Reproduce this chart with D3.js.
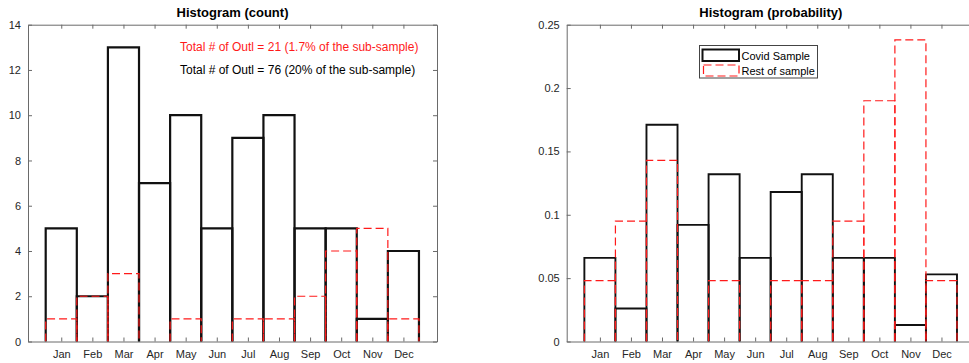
<!DOCTYPE html>
<html><head><meta charset="utf-8">
<script src="https://cdn.jsdelivr.net/npm/d3@7"></script>
<style>
html,body{margin:0;padding:0;background:#fff;}
svg{display:block;font-family:"Liberation Sans",Arial,sans-serif;}
</style></head>
<body>
<svg id="chart" width="969" height="363"></svg>
<script>
const months = ["Jan","Feb","Mar","Apr","May","Jun","Jul","Aug","Sep","Oct","Nov","Dec"];
const covidCount = [5,2,13,7,10,5,9,10,5,5,1,4];
const restCount  = [1,2,3,0,1,0,1,1,2,4,5,1];
const covidProb  = [0.066,0.026,0.171,0.092,0.132,0.066,0.118,0.132,0.066,0.066,0.013,0.053];
const restProb   = [0.048,0.095,0.143,0,0.048,0,0.048,0.048,0.095,0.190,0.238,0.048];
const countTicks = [0,2,4,6,8,10,12,14];
const countTickLabels = ["0","2","4","6","8","10","12","14"];
const probTicks = [0,0.05,0.1,0.15,0.2,0.25];
const probTickLabels = ["0","0.05","0.1","0.15","0.2","0.25"];
const titles = ["Histogram (count)","Histogram (probability)"];
const notes = ["Total # of Outl = 21 (1.7% of the sub-sample)","Total # of Outl = 76 (20% of the sub-sample)"];
const legendLabels = ["Covid Sample","Rest of sample"];

const svg = d3.select("#chart");
const AX = "#262626", AXLINE = "#6a6a6a";
const TOP = 24.7, BOT = 341.5;
const xDomain = [-0.069, 13.08];

function panel(x0, x1, yMax, ticks, tickLabels, black, red, title, drawRight, bw) {
  const g = svg.append("g");
  const x = d3.scaleLinear().domain(xDomain).range([x0, x1]);
  const y = d3.scaleLinear().domain([0, yMax]).range([BOT, TOP]);
  const idx = d3.range(1, 13);
  const barPath = (v, i) => {
    const a = x(i + 0.5), b = x(i + 1.5), yy = y(v), y0 = y(0);
    return `M${a},${y0}L${a},${yy}L${b},${yy}L${b},${y0}`;
  };
  // black bars
  g.append("g").selectAll("path").data(black.map((v,i)=>({v,i})).filter(d=>d.v>0))
    .join("path").attr("d", d => barPath(d.v, d.i))
    .attr("fill","none").attr("stroke","#111").attr("stroke-width",bw);
  // red dashed bars
  g.append("g").selectAll("path").data(red.map((v,i)=>({v,i})).filter(d=>d.v>0))
    .join("path").attr("d", d => barPath(d.v, d.i))
    .attr("fill","none").attr("stroke","#ff1a1a").attr("stroke-width",1.2)
    .attr("stroke-dasharray","8,4");
  // axes
  const styleAxis = sel => {
    sel.select(".domain").attr("stroke", AXLINE).attr("stroke-width",1);
    sel.selectAll(".tick line").attr("stroke", AXLINE).attr("stroke-width",1);
    sel.selectAll(".tick text").attr("fill", AX).attr("font-size","11px")
      .attr("font-family","'Liberation Sans',Arial,sans-serif");
  };
  const xb = g.append("g").attr("transform",`translate(0,${BOT})`)
    .call(d3.axisBottom(x).tickValues(idx).tickFormat(d=>months[d-1]).tickSizeInner(-4).tickSizeOuter(0).tickPadding(9));
  styleAxis(xb);
  const xt = g.append("g").attr("transform",`translate(0,${TOP})`)
    .call(d3.axisTop(x).tickValues(idx).tickFormat("").tickSizeInner(-4).tickSizeOuter(0));
  styleAxis(xt);
  const yl = g.append("g").attr("transform",`translate(${x0},0)`)
    .call(d3.axisLeft(y).tickValues(ticks).tickFormat((d,i)=>tickLabels[i]).tickSizeInner(-4).tickSizeOuter(0).tickPadding(7));
  styleAxis(yl);
  if (drawRight) {
    const yr = g.append("g").attr("transform",`translate(${x1},0)`)
      .call(d3.axisRight(y).tickValues(ticks).tickFormat("").tickSizeInner(-4).tickSizeOuter(0));
    styleAxis(yr);
  }
  g.append("text").attr("x",(x0+x1)/2).attr("y",16.5).attr("text-anchor","middle")
    .attr("font-weight","bold").attr("font-size","13px").attr("fill","#000").text(title);
  return {g,x,y};
}

const L = panel(28, 437, 14, countTicks, countTickLabels, covidCount, restCount, titles[0], true, 2.2);
L.g.append("text").attr("x",180).attr("y",50.5).attr("font-size","12px").attr("fill","#ff1a1a").text(notes[0]);
L.g.append("text").attr("x",180).attr("y",74).attr("font-size","12px").attr("fill","#000").text(notes[1]);

const R = panel(566.7, 975, 0.25, probTicks, probTickLabels, covidProb, restProb, titles[1], false, 1.9);
// legend
const lg = R.g.append("g");
lg.append("rect").attr("x",699.5).attr("y",45.5).attr("width",118).attr("height",32.5)
  .attr("fill","#fff").attr("stroke","#444").attr("stroke-width",1);
lg.append("rect").attr("x",702.5).attr("y",49.5).attr("width",36.5).attr("height",11.5)
  .attr("fill","none").attr("stroke","#111").attr("stroke-width",2);
lg.append("rect").attr("x",703.5).attr("y",65).attr("width",35.5).attr("height",11)
  .attr("fill","none").attr("stroke","#ff1a1a").attr("stroke-width",1.2).attr("stroke-dasharray","8,4");
lg.selectAll("text.lab").data(legendLabels).join("text").attr("class","lab")
  .attr("x",741.5).attr("y",(d,i)=>59.5+i*15).attr("font-size","11px").attr("fill","#000").text(d=>d);
</script>
</body></html>
